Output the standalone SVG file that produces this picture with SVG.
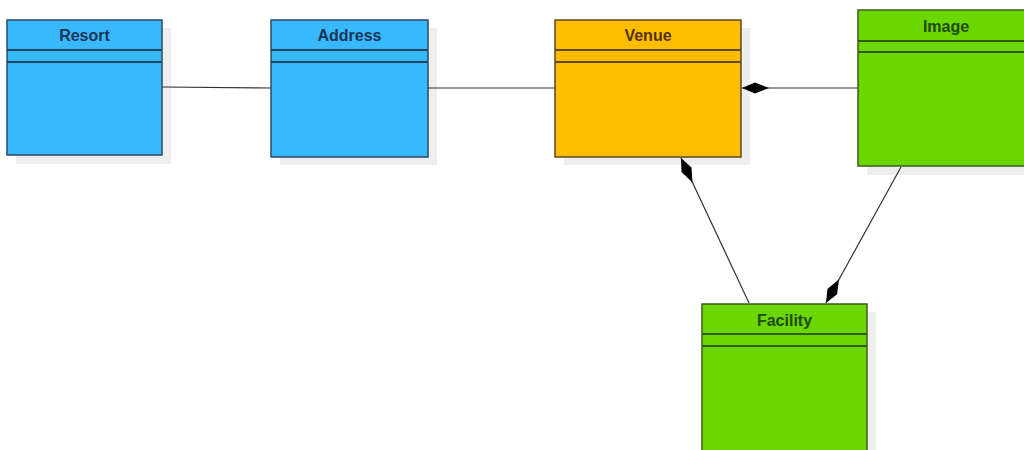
<svg xmlns="http://www.w3.org/2000/svg" width="1024" height="450" viewBox="0 0 1024 450">
<style>
.sh{fill:#eeeeee}
.t{font-family:"Liberation Sans",Arial,sans-serif;font-size:16px;font-weight:bold;text-anchor:middle}
.blue{fill:#38b8fd;stroke:#2c4a60;stroke-width:1.5}
.bl{stroke:#1e4766;stroke-width:2}
.bt{fill:#1a3654}
.orange{fill:#ffbd00;stroke:#5e4a1e;stroke-width:1.5}
.ol{stroke:#6a4a00;stroke-width:2}
.ot{fill:#553300}
.green{fill:#6bd600;stroke:#3c5a1e;stroke-width:1.5}
.gl{stroke:#2f5a10;stroke-width:2}
.gt{fill:#1f4a10}
.c{stroke:#333;stroke-width:1.2;fill:none}
</style>
<defs>
<marker id="dia" markerUnits="userSpaceOnUse" markerWidth="28" markerHeight="12" refX="0" refY="5.5" orient="auto" overflow="visible">
<path d="M0,5.5 L13,0 L27,5.5 L13,11 z" fill="#000"/>
</marker>
</defs>
<g id="resort">
<rect class="sh" x="16" y="28" width="155" height="136"/>
<rect class="blue" x="7" y="20" width="155" height="135"/>
<line class="bl" x1="7" y1="50" x2="162" y2="50"/>
<line class="bl" x1="7" y1="62" x2="162" y2="62"/>
<text class="t bt" x="84.5" y="40.5">Resort</text>
</g>
<g id="address">
<rect class="sh" x="280" y="28" width="157" height="137"/>
<rect class="blue" x="271" y="20" width="157" height="137"/>
<line class="bl" x1="271" y1="50" x2="428" y2="50"/>
<line class="bl" x1="271" y1="62" x2="428" y2="62"/>
<text class="t bt" x="349.5" y="40.5">Address</text>
</g>
<g id="venue">
<rect class="sh" x="564" y="28" width="186" height="137"/>
<rect class="orange" x="555" y="20" width="186" height="137"/>
<line class="ol" x1="555" y1="50" x2="741" y2="50"/>
<line class="ol" x1="555" y1="62" x2="741" y2="62"/>
<text class="t ot" x="648" y="40.5">Venue</text>
</g>
<g id="image">
<rect class="sh" x="867" y="18" width="170" height="157"/>
<rect class="green" x="858" y="10" width="180" height="156"/>
<line class="gl" x1="858" y1="41" x2="1038" y2="41"/>
<line class="gl" x1="858" y1="52" x2="1038" y2="52"/>
<text class="t gt" x="946" y="31.5">Image</text>
</g>
<g id="facility">
<rect class="sh" x="711" y="312" width="165" height="150"/>
<rect class="green" x="702" y="304" width="165" height="160"/>
<line class="gl" x1="702" y1="334" x2="867" y2="334"/>
<line class="gl" x1="702" y1="346" x2="867" y2="346"/>
<text class="t gt" x="784.5" y="325.5">Facility</text>
</g>
<g id="connectors">
<path class="c" d="M162,87 L271,88"/>
<path class="c" d="M428,88 L555,88"/>
<path class="c" d="M742,88 L858,88" marker-start="url(#dia)"/>
<path class="c" d="M681,158 L749,303" marker-start="url(#dia)"/>
<path class="c" d="M826,303 L901,167" marker-start="url(#dia)"/>
</g>
</svg>
